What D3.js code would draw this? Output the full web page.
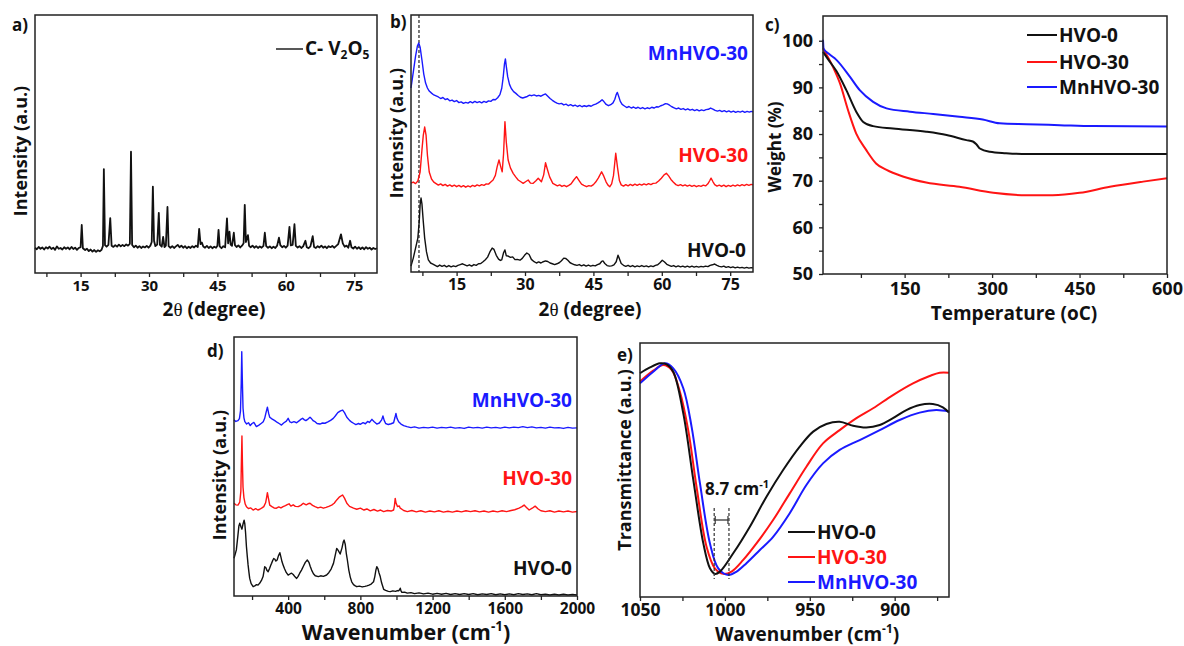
<!DOCTYPE html>
<html>
<head>
<meta charset="utf-8">
<script src="https://cdn.jsdelivr.net/npm/d3@7"></script>
<style>
  body { margin: 0; background: #fff; }
  svg { display: block; }
  text { font-family: 'Open Sans', sans-serif; font-weight: 700; }
</style>
</head>
<body>
<svg id="fig" width="1184" height="646"></svg>
<script>
// ---------- (a) XRD of C-V2O5: [2θ, intensity] ----------
const xrdV2O5 = [[5.0,9.8],[5.4,9.2],[5.8,10.1],[6.2,9.4],[6.6,9.9],[7.0,9.1],[7.4,10.0],[7.8,9.5],[8.2,10.2],[8.6,9.3],[9.0,9.8],[9.4,9.0],[9.8,10.3],[10.2,9.4],[10.6,9.7],[11.0,9.1],[11.4,10.0],[11.8,9.4],[12.2,9.9],[12.6,9.2],[13.0,10.1],[13.4,9.3],[13.8,9.8],[14.2,9.0],[14.6,9.7],[15.0,10.0],[15.25,18.6],[15.5,9.6],[16.0,8.9],[16.4,9.4],[16.8,8.5],[17.2,9.1],[17.6,8.3],[18.0,8.9],[18.4,8.2],[18.8,8.8],[19.2,8.4],[19.6,9.0],[19.9,10.5],[20.1,40.3],[20.35,10.8],[20.7,10.2],[21.1,10.9],[21.5,21.3],[21.8,10.6],[22.2,10.1],[22.6,10.8],[23.0,10.2],[23.4,11.0],[23.8,10.3],[24.2,10.9],[24.6,10.4],[25.0,11.1],[25.4,10.6],[25.8,11.3],[26.05,47.0],[26.3,10.9],[26.7,10.0],[27.1,10.6],[27.5,9.8],[27.9,10.4],[28.3,9.7],[28.7,10.3],[29.1,9.9],[29.5,10.5],[29.9,9.8],[30.3,10.6],[30.6,12.0],[30.85,33.5],[31.1,12.5],[31.4,10.4],[31.8,11.0],[32.15,23.3],[32.4,10.9],[32.8,10.2],[33.1,14.0],[33.4,10.0],[33.7,10.6],[34.05,25.6],[34.3,10.4],[34.7,9.8],[35.1,10.4],[35.5,9.7],[35.9,10.3],[36.3,10.9],[36.7,10.0],[37.1,10.6],[37.5,9.8],[37.9,10.4],[38.3,9.6],[38.7,10.2],[39.1,9.7],[39.5,10.4],[39.9,9.9],[40.3,10.6],[40.7,10.1],[41.0,17.1],[41.3,11.2],[41.6,11.8],[41.9,10.3],[42.3,9.8],[42.7,10.5],[43.1,9.7],[43.5,10.3],[43.9,9.6],[44.3,10.2],[44.7,9.8],[45.0,10.6],[45.25,16.7],[45.5,10.3],[45.9,9.6],[46.3,10.4],[46.7,10.0],[47.1,21.2],[47.35,11.5],[47.65,16.0],[47.9,11.0],[48.2,10.5],[48.6,15.6],[48.85,10.8],[49.2,10.1],[49.6,10.7],[50.0,9.9],[50.4,10.6],[50.75,11.5],[51.0,26.4],[51.25,12.0],[51.7,14.7],[51.95,10.5],[52.3,10.0],[52.7,10.6],[53.1,9.8],[53.5,10.4],[53.9,9.7],[54.3,10.3],[54.7,9.8],[55.1,10.5],[55.4,15.6],[55.7,10.4],[56.1,9.8],[56.5,10.3],[56.9,9.6],[57.3,10.2],[57.7,9.7],[58.1,10.6],[58.5,13.7],[58.8,10.8],[59.2,10.0],[59.6,10.5],[60.0,9.8],[60.4,10.6],[60.8,17.9],[61.1,10.7],[61.5,10.9],[61.9,18.9],[62.2,10.5],[62.6,9.9],[63.0,10.4],[63.4,9.7],[63.8,10.3],[64.3,12.5],[64.6,10.0],[65.0,9.6],[65.4,10.3],[65.9,14.3],[66.2,10.1],[66.6,9.7],[67.0,10.4],[67.4,9.9],[67.8,10.6],[68.2,9.8],[68.6,10.3],[69.0,9.6],[69.4,10.4],[69.8,10.0],[70.2,10.5],[70.6,9.8],[71.0,10.4],[71.5,11.2],[72.1,15.0],[72.5,11.5],[72.9,10.2],[73.3,10.6],[73.7,9.8],[74.1,12.5],[74.4,10.0],[74.8,9.5],[75.2,10.2],[75.6,9.4],[76.0,10.0],[76.4,9.3],[76.8,9.9],[77.2,9.2],[77.6,10.0],[78.0,9.4],[78.4,9.8],[78.8,9.1],[79.2,9.7],[79.6,9.3],[80.0,9.6]];

// ---------- (b) XRD of HVO samples: [2θ, intensity] ----------
const xrdMnHVO30 = [[5.0,71.6],[5.5,77.8],[6.0,84.0],[6.4,87.9],[6.7,89.1],[7.0,87.5],[7.4,82.5],[7.8,77.0],[8.2,73.5],[8.6,71.6],[9.0,70.4],[9.5,69.6],[10.0,68.9],[10.5,68.5],[11.0,68.1],[11.5,67.5],[12.0,67.9],[12.5,67.1],[13.0,67.4],[13.5,66.6],[14.0,66.9],[14.5,66.3],[15.0,66.7],[15.5,65.9],[16.0,66.2],[16.5,65.6],[17.0,66.0],[17.5,65.7],[18.0,66.3],[18.5,65.8],[19.0,66.4],[19.5,65.9],[20.0,66.3],[20.5,65.8],[21.0,66.4],[21.5,66.0],[22.0,66.6],[22.5,66.4],[23.0,67.1],[23.5,67.0],[24.0,67.8],[24.5,69.0],[24.9,71.5],[25.2,75.5],[25.5,81.0],[25.7,82.9],[25.9,80.0],[26.2,76.0],[26.6,73.0],[27.0,71.4],[27.5,70.2],[28.0,69.5],[28.5,68.7],[29.0,68.0],[29.5,67.7],[30.0,68.0],[30.5,68.3],[31.0,68.8],[31.5,68.6],[32.0,68.9],[32.5,68.5],[33.0,68.7],[33.5,68.4],[34.0,68.9],[34.5,69.3],[35.0,68.4],[35.5,67.5],[36.0,66.8],[36.5,66.2],[37.0,65.7],[37.5,65.4],[38.0,65.6],[38.5,65.0],[39.0,65.3],[39.5,64.7],[40.0,65.1],[40.5,64.6],[41.0,64.9],[41.5,64.4],[42.0,64.8],[42.5,64.3],[43.0,64.7],[43.5,64.4],[44.0,64.8],[44.5,64.5],[45.0,65.0],[45.5,65.3],[46.0,65.8],[46.5,66.4],[46.9,67.0],[47.3,66.3],[47.8,65.2],[48.3,64.7],[48.8,65.1],[49.3,65.8],[49.7,67.2],[50.0,69.0],[50.25,69.9],[50.5,68.6],[50.9,66.4],[51.3,65.2],[51.8,64.6],[52.3,64.0],[52.8,64.4],[53.3,63.8],[53.8,64.2],[54.3,63.7],[54.8,64.1],[55.3,63.6],[55.8,64.0],[56.3,63.5],[56.8,63.9],[57.3,63.6],[57.8,64.1],[58.3,63.8],[58.8,64.3],[59.3,64.2],[59.8,64.7],[60.3,65.0],[60.8,65.5],[61.2,65.4],[61.7,64.9],[62.2,64.3],[62.7,63.9],[63.2,63.5],[63.7,63.8],[64.2,63.3],[64.7,63.6],[65.2,63.1],[65.7,63.5],[66.2,63.0],[66.7,63.3],[67.2,62.8],[67.7,63.2],[68.2,62.7],[68.7,63.1],[69.2,62.8],[69.7,63.2],[70.2,63.3],[70.7,63.8],[71.2,63.4],[71.7,62.9],[72.2,62.6],[72.7,62.9],[73.2,62.4],[73.7,62.8],[74.2,62.3],[74.7,62.7],[75.2,62.2],[75.7,62.6],[76.2,62.1],[76.7,62.5],[77.2,62.2],[77.7,62.6],[78.2,62.1],[78.7,62.5],[79.2,62.2],[79.6,62.5],[80.0,62.3]];

const xrdHVO30 = [[5.0,34.6],[5.5,35.0],[6.0,34.4],[6.5,35.4],[7.0,38.9],[7.4,47.5],[7.7,53.3],[8.0,56.4],[8.3,53.3],[8.6,45.5],[9.0,38.9],[9.5,36.2],[10.0,35.0],[10.5,34.4],[11.0,33.8],[11.5,34.3],[12.0,33.6],[12.5,34.1],[13.0,33.4],[13.5,33.9],[14.0,33.3],[14.5,33.8],[15.0,33.2],[15.5,33.7],[16.0,33.1],[16.5,33.6],[17.0,33.0],[17.5,33.5],[18.0,33.1],[18.5,33.7],[19.0,33.3],[19.5,33.9],[20.0,33.5],[20.5,34.0],[21.0,33.7],[21.5,34.3],[22.0,34.2],[22.5,35.0],[23.0,35.8],[23.5,37.6],[23.9,41.0],[24.3,43.6],[24.7,40.8],[25.0,39.0],[25.3,46.0],[25.6,58.5],[25.9,50.5],[26.3,43.6],[26.8,40.5],[27.4,38.4],[28.0,36.9],[28.5,35.8],[29.0,35.2],[29.6,34.5],[30.2,35.2],[30.7,35.8],[31.2,34.6],[31.8,34.5],[32.4,35.5],[32.9,36.5],[33.6,35.1],[34.1,37.8],[34.5,42.5],[34.9,40.0],[35.4,37.0],[36.1,34.5],[36.6,34.0],[37.1,33.5],[37.6,33.9],[38.1,33.3],[38.6,33.7],[39.1,33.2],[39.6,33.7],[40.1,34.3],[40.7,35.8],[41.3,37.1],[41.9,35.5],[42.4,34.2],[42.9,33.7],[43.5,33.2],[44.0,33.6],[44.5,33.4],[45.0,34.0],[45.5,35.0],[46.1,36.6],[46.8,39.0],[47.3,37.2],[47.8,35.0],[48.2,33.8],[48.6,33.2],[49.0,34.3],[49.4,37.5],[49.9,46.2],[50.3,40.5],[50.7,35.6],[51.1,33.9],[51.6,33.4],[52.1,34.0],[52.6,33.5],[53.1,34.1],[53.6,33.6],[54.1,34.2],[54.6,33.7],[55.1,34.2],[55.6,33.8],[56.1,34.3],[56.6,33.9],[57.1,34.4],[57.6,34.0],[58.1,34.5],[58.7,34.6],[59.3,35.4],[59.9,36.5],[60.5,37.8],[61.0,38.4],[61.5,37.4],[62.0,36.0],[62.5,35.0],[63.1,34.0],[63.6,33.6],[64.1,34.0],[64.6,33.5],[65.1,33.9],[65.6,33.4],[66.1,33.8],[66.6,33.3],[67.1,33.7],[67.6,33.2],[68.1,33.6],[68.6,33.3],[69.1,33.8],[69.6,33.5],[70.1,34.3],[70.5,35.5],[70.8,36.5],[71.2,35.2],[71.6,34.0],[72.1,33.4],[72.6,33.8],[73.1,33.3],[73.6,33.8],[74.1,33.2],[74.6,33.7],[75.1,33.3],[75.6,33.8],[76.1,33.4],[76.6,33.9],[77.1,33.5],[77.6,34.0],[78.1,33.6],[78.6,34.1],[79.1,33.7],[79.6,34.1],[80.0,33.9]];

const xrdHVO0 = [[5.0,2.3],[5.5,5.4],[6.0,9.3],[6.5,13.2],[6.8,19.5],[7.0,26.1],[7.2,28.8],[7.4,26.5],[7.7,19.5],[8.0,13.2],[8.4,7.8],[8.8,4.7],[9.3,3.5],[9.8,3.1],[10.3,2.6],[10.8,2.1],[11.3,2.7],[11.8,2.2],[12.3,2.6],[12.8,2.0],[13.3,2.5],[13.8,2.0],[14.3,2.4],[14.8,2.1],[15.3,2.6],[15.8,2.9],[16.3,3.2],[16.8,2.8],[17.3,2.4],[17.8,2.8],[18.3,2.3],[18.8,2.9],[19.3,2.6],[19.8,3.2],[20.3,3.3],[20.8,4.0],[21.3,4.8],[21.8,5.8],[22.3,7.8],[22.8,9.3],[23.2,8.8],[23.7,6.5],[24.2,5.0],[24.6,4.5],[24.9,4.7],[25.3,7.5],[25.6,8.6],[25.9,6.3],[26.3,6.2],[26.8,5.7],[27.3,5.9],[27.8,4.8],[28.3,4.9],[28.9,4.6],[29.4,5.3],[29.9,6.5],[30.4,7.4],[30.9,6.8],[31.4,4.9],[32.0,4.0],[32.5,3.5],[33.0,3.9],[33.5,3.5],[34.0,4.0],[34.5,4.3],[35.0,4.1],[35.5,3.5],[36.0,3.2],[36.5,2.9],[37.0,3.2],[37.5,3.6],[38.0,4.4],[38.5,5.4],[38.9,5.3],[39.4,4.6],[39.9,3.6],[40.4,3.2],[40.9,2.8],[41.4,2.6],[41.9,2.9],[42.4,2.4],[42.9,2.8],[43.4,2.3],[43.9,2.7],[44.4,2.3],[44.9,2.6],[45.4,2.4],[45.9,2.9],[46.4,3.2],[46.8,4.1],[47.1,4.3],[47.5,3.3],[48.0,2.5],[48.5,2.3],[49.0,2.4],[49.5,2.8],[50.0,4.0],[50.4,6.5],[50.7,5.2],[51.1,3.3],[51.6,2.6],[52.1,2.2],[52.6,2.6],[53.1,2.1],[53.6,2.5],[54.1,2.0],[54.6,2.4],[55.1,2.1],[55.6,2.5],[56.1,2.1],[56.6,2.4],[57.1,2.0],[57.6,2.4],[58.1,2.1],[58.6,2.6],[59.1,2.8],[59.6,3.6],[60.1,4.6],[60.6,3.9],[61.1,3.0],[61.6,2.6],[62.1,2.2],[62.6,2.5],[63.1,2.0],[63.6,2.4],[64.1,2.0],[64.6,2.3],[65.1,1.9],[65.6,2.3],[66.1,1.9],[66.6,2.3],[67.1,1.9],[67.6,2.2],[68.1,1.9],[68.6,2.2],[69.1,2.0],[69.6,2.3],[70.1,2.1],[70.6,2.6],[71.1,2.8],[71.6,3.1],[72.1,2.6],[72.6,2.2],[73.1,2.0],[73.6,2.3],[74.1,1.8],[74.6,2.1],[75.1,1.7],[75.6,2.0],[76.1,1.6],[76.6,1.9],[77.1,1.6],[77.6,1.8],[78.1,1.5],[78.6,1.8],[79.1,1.5],[79.6,1.7],[80.0,1.6]];
const xrdRefAngle = 6.75;   // dashed guide through the (001) reflection

// ---------- (c) TGA: [temperature °C, weight %] ----------
const tgaHVO0 = [[10,97.6],[20,95.8],[33,93.5],[50,89.4],[67,84.8],[79,82.6],[96,81.7],[130,81.2],[187,80.5],[222,79.8],[256,78.7],[267,78.4],[273,77.8],[279,76.9],[296,76.2],[324,75.9],[360,75.7],[450,75.7],[600,75.7]];
const tgaHVO30 = [[10,98.4],[27,94.4],[39,90.9],[53,85.1],[67,80.1],[84,76.6],[101,73.7],[119,72.3],[147,70.9],[187,69.6],[244,68.7],[302,67.4],[359,66.9],[404,66.9],[450,67.4],[502,68.7],[559,69.8],[600,70.5]];
const tgaMnHVO30 = [[10,100.2],[11,98.3],[20,97.2],[33,95.9],[56,92.3],[73,89.4],[96,86.9],[119,85.5],[159,84.8],[199,84.3],[244,83.7],[284,83.1],[313,82.3],[359,82.1],[416,81.9],[473,81.7],[600,81.6]];

// ---------- (d) Raman: [wavenumber cm-1, intensity] ----------
const ramanMnHVO30 = [[100,68.0],[110,67.4],[122,67.7],[130,68.5],[136,71.5],[140,82.0],[143,94.3],[146,84.0],[150,72.5],[155,68.8],[160,67.3],[170,66.4],[180,66.9],[190,65.8],[200,66.6],[210,67.0],[224,65.4],[238,66.0],[252,66.7],[262,67.3],[270,68.6],[278,71.0],[285,72.9],[292,70.5],[298,69.0],[310,68.4],[326,67.7],[340,67.0],[352,66.5],[363,66.0],[375,66.8],[390,67.5],[400,68.6],[410,67.2],[419,66.9],[432,67.3],[447,66.9],[460,67.6],[470,68.2],[480,68.6],[490,68.0],[498,67.7],[510,68.3],[521,69.0],[530,68.4],[540,67.6],[549,67.3],[560,66.6],[576,66.4],[590,66.8],[604,66.7],[620,67.2],[635,67.8],[650,68.6],[662,69.6],[675,70.8],[690,71.5],[702,71.8],[712,70.8],[725,69.0],[740,67.8],[752,67.1],[762,66.7],[775,66.2],[790,66.6],[799,66.3],[815,66.9],[828,66.5],[840,67.4],[850,67.0],[864,68.2],[875,67.4],[891,66.4],[905,66.8],[918,68.0],[925,69.5],[932,67.8],[940,66.6],[955,66.2],[970,66.5],[984,66.9],[992,69.0],[997,70.5],[1003,68.6],[1012,67.3],[1025,66.4],[1040,65.8],[1058,65.4],[1080,65.0],[1100,65.3],[1125,64.8],[1150,65.1],[1175,64.9],[1200,65.2],[1225,64.8],[1250,65.1],[1275,64.9],[1300,65.2],[1325,64.8],[1350,65.0],[1375,64.7],[1400,65.2],[1425,64.9],[1450,65.1],[1475,64.8],[1500,65.2],[1525,64.9],[1550,65.1],[1575,64.8],[1600,65.2],[1625,64.9],[1650,65.2],[1675,65.0],[1700,65.4],[1725,65.0],[1750,65.3],[1775,64.9],[1800,65.1],[1825,64.8],[1850,65.2],[1875,64.9],[1900,65.0],[1925,64.7],[1950,65.1],[1975,64.8],[2000,64.9]];
const ramanHVO30 = [[100,35.8],[110,35.2],[122,35.1],[132,36.2],[138,40.5],[141,52.0],[144,61.8],[147,50.5],[150,42.0],[155,38.0],[162,35.5],[169,34.5],[180,33.8],[193,34.0],[206,33.2],[220,33.7],[232,33.2],[243,33.5],[255,34.0],[265,34.5],[275,36.0],[280,37.8],[285,39.9],[290,38.0],[298,35.1],[310,34.5],[322,34.0],[335,33.9],[348,34.4],[360,34.0],[372,34.5],[385,34.9],[395,35.3],[405,35.6],[415,34.7],[428,35.2],[440,34.6],[456,34.5],[470,35.0],[484,35.8],[500,35.2],[510,35.6],[521,35.8],[535,35.0],[549,34.5],[565,34.0],[580,34.3],[595,33.9],[610,34.2],[625,34.6],[641,35.1],[655,35.8],[669,37.1],[685,38.3],[701,39.0],[712,37.8],[725,35.8],[740,34.6],[762,33.9],[780,33.5],[800,33.9],[820,33.2],[836,33.6],[855,32.9],[875,33.4],[895,32.8],[912,33.2],[929,32.6],[950,33.0],[970,32.8],[984,33.2],[989,35.0],[993,37.7],[998,35.8],[1006,34.5],[1015,34.8],[1021,33.9],[1040,33.0],[1060,32.6],[1085,33.0],[1110,32.5],[1135,32.9],[1160,32.4],[1185,32.8],[1210,32.5],[1235,32.9],[1260,32.4],[1285,32.7],[1310,32.4],[1335,32.8],[1360,32.5],[1385,32.9],[1410,32.6],[1435,32.9],[1460,32.5],[1485,32.8],[1510,32.4],[1535,32.8],[1560,32.5],[1585,32.9],[1610,32.6],[1635,33.0],[1655,33.3],[1679,33.9],[1695,34.5],[1707,35.1],[1720,34.2],[1735,33.2],[1752,33.9],[1768,34.7],[1785,33.6],[1800,32.9],[1825,32.6],[1850,32.9],[1875,32.4],[1900,32.8],[1925,32.5],[1950,32.8],[1975,32.4],[2000,32.6]];
const ramanHVO0 = [[100,14.6],[106,16.0],[113,17.8],[118,21.0],[122,23.6],[127,27.0],[132,28.1],[138,26.8],[144,25.8],[150,27.8],[156,29.3],[160,27.8],[164,24.5],[169,19.0],[174,15.0],[178,12.0],[183,9.0],[187,6.8],[195,4.8],[206,3.6],[215,3.9],[225,4.4],[233,4.2],[243,5.0],[252,6.0],[261,7.5],[266,9.5],[270,11.3],[276,11.0],[283,9.8],[289,9.4],[297,10.6],[303,11.8],[308,12.6],[315,13.8],[320,14.5],[326,14.2],[332,13.5],[339,13.9],[346,15.5],[354,16.7],[360,15.0],[366,13.2],[372,12.0],[380,10.5],[390,9.0],[400,8.1],[410,8.5],[419,8.8],[428,8.3],[438,7.4],[447,6.8],[455,7.6],[464,8.8],[474,10.0],[485,11.6],[495,13.0],[506,13.9],[515,13.0],[522,11.5],[530,10.0],[540,8.6],[550,7.8],[567,7.5],[580,7.8],[595,7.6],[613,8.1],[625,9.0],[638,10.4],[651,12.6],[660,15.5],[669,18.4],[678,17.5],[688,16.2],[698,18.5],[705,20.8],[710,21.6],[716,20.0],[722,16.5],[728,13.9],[736,10.0],[744,7.3],[752,5.5],[762,4.4],[772,3.9],[780,3.6],[795,3.8],[810,3.5],[825,3.7],[836,3.9],[848,4.2],[860,4.6],[873,5.5],[880,7.5],[886,10.0],[891,11.3],[897,10.6],[903,9.0],[910,7.5],[918,5.0],[929,2.6],[940,2.2],[955,1.8],[966,1.7],[980,2.0],[995,1.8],[1005,2.1],[1012,2.0],[1017,2.4],[1021,3.0],[1025,2.0],[1030,1.4],[1045,1.5],[1060,1.1],[1080,1.3],[1100,0.9],[1125,1.2],[1150,0.8],[1175,1.1],[1200,0.7],[1225,1.0],[1250,0.7],[1275,1.0],[1300,0.6],[1325,0.9],[1350,0.6],[1375,0.9],[1400,0.6],[1425,0.9],[1450,0.5],[1475,0.8],[1500,0.6],[1525,0.9],[1550,0.5],[1575,0.8],[1600,0.5],[1625,0.8],[1650,0.5],[1675,0.9],[1700,0.6],[1725,0.8],[1750,0.5],[1775,0.9],[1800,0.5],[1825,0.7],[1850,0.4],[1875,0.7],[1900,0.4],[1925,0.7],[1950,0.4],[1975,0.6],[2000,0.4]];

// ---------- (e) FTIR V=O band: [wavenumber cm-1, transmittance] ----------
const irHVO0 = [[1050,88.1],[1044.1,90.4],[1038.2,92.0],[1034.3,91.6],[1030.4,88.7],[1024.5,72.3],[1018.6,46.1],[1012.7,21.1],[1008.8,11.3],[1005.9,9.1],[1002.9,10.0],[995.1,17.2],[985.3,27.7],[975.5,39.5],[965.7,50.0],[955.9,59.2],[948,65.1],[940.2,68.1],[932.4,69.0],[924.5,67.4],[916.7,66.7],[908.8,67.7],[901,70.4],[893.1,73.6],[885.3,75.6],[877.5,76.0],[871.6,74.7],[868,72.6]];
const irHVO30 = [[1050,84.8],[1042.2,89.1],[1036.3,91.3],[1031.4,89.4],[1026.5,80.8],[1021.6,65.7],[1016.7,43.4],[1010.8,19.8],[1005.9,11.3],[1001,9.1],[996.1,10.0],[989.2,14.6],[981.4,21.1],[971.6,30.3],[961.8,40.8],[952,51.3],[942.2,60.5],[932.4,65.7],[922.5,70.4],[912.7,74.3],[901,79.5],[889.2,84.1],[879.4,87.0],[873.5,88.3],[868,88.3]];
const irMnHVO30 = [[1050,84.1],[1042.2,88.7],[1035.3,92.0],[1030.4,90.0],[1024.5,82.2],[1019.6,67.0],[1014.7,44.8],[1008.8,21.1],[1003.9,11.3],[998,8.7],[993.1,10.0],[987.3,13.3],[979.4,18.5],[971.6,23.7],[961.8,33.0],[952,44.1],[942.2,52.6],[932.4,57.9],[920.6,61.8],[908.8,65.7],[897.1,69.7],[885.3,72.6],[875.5,73.6],[868,73.0]];
const irShiftStart = 1006.3;   // HVO-0 band minimum
const irShift = 8.7;           // red-shift of the MnHVO-30 band

// ---------- tick values ----------
const xrdTicks = [15, 30, 45, 60, 75];
const xrdMinor = [7.5, 22.5, 37.5, 52.5, 67.5];
const tgaTempTicks = [150, 300, 450, 600];
const tgaTempMinor = [75, 225, 375, 525];
const tgaWeightTicks = [50, 60, 70, 80, 90, 100];
const tgaWeightMinor = [55, 65, 75, 85, 95];
const ramanTicks = [400, 800, 1200, 1600, 2000];
const ramanMinor = [200, 600, 1000, 1400, 1800];
const irTicks = [1050, 1000, 950, 900];
const irMinor = [1025, 975, 925, 875];

const BLACK = '#111', RED = '#ff1414', BLUE = '#1a1aff';
const FONT = "'Open Sans', sans-serif";
const svg = d3.select('#fig');

function makePanel(box, xDom, yDom) {
  const x = d3.scaleLinear().domain(xDom).range([box.x0, box.x1]);
  const y = d3.scaleLinear().domain(yDom).range([box.y1, box.y0]);
  const g = svg.append('g');
  return { g, x, y, box };
}

function drawFrame(p) {
  p.g.append('rect')
    .attr('x', p.box.x0).attr('y', p.box.y0)
    .attr('width', p.box.x1 - p.box.x0).attr('height', p.box.y1 - p.box.y0)
    .attr('fill', 'none').attr('stroke', '#222').attr('stroke-width', 1.5);
}

function styleAxis(sel, fs) {
  sel.select('.domain').remove();
  sel.attr('font-family', FONT).attr('font-size', fs).attr('font-weight', 700);
  sel.selectAll('line').attr('stroke', '#222').attr('stroke-width', 1.3);
  sel.selectAll('text').attr('fill', '#111');
}

function bottomAxis(p, major, minor, fs, pad) {
  const a = p.g.append('g').attr('transform', `translate(0,${p.box.y1})`)
    .call(d3.axisBottom(p.x).tickValues(major).tickSize(4).tickPadding(pad).tickFormat(d3.format('d')));
  styleAxis(a, fs);
  const m = p.g.append('g').attr('transform', `translate(0,${p.box.y1})`)
    .call(d3.axisBottom(p.x).tickValues(minor).tickSize(4).tickFormat(''));
  styleAxis(m, fs);
}

function leftAxis(p, major, minor, fs, pad) {
  const a = p.g.append('g').attr('transform', `translate(${p.box.x0},0)`)
    .call(d3.axisLeft(p.y).tickValues(major).tickSize(4).tickPadding(pad).tickFormat(d3.format('d')));
  styleAxis(a, fs);
  const m = p.g.append('g').attr('transform', `translate(${p.box.x0},0)`)
    .call(d3.axisLeft(p.y).tickValues(minor).tickSize(4).tickFormat(''));
  styleAxis(m, fs);
}

function trace(p, data, color, width, curve) {
  const line = d3.line().x(d => p.x(d[0])).y(d => p.y(d[1])).curve(curve || d3.curveLinear);
  p.g.append('path').datum(data)
    .attr('d', line).attr('fill', 'none')
    .attr('stroke', color).attr('stroke-width', width)
    .attr('stroke-linejoin', 'round');
}

function label(x, y, txt, opts = {}) {
  return svg.append('text')
    .attr('x', x).attr('y', y)
    .attr('font-size', opts.size || 18)
    .attr('fill', opts.color || BLACK)
    .attr('text-anchor', opts.anchor || 'start')
    .attr('transform', opts.rotate ? `rotate(-90,${x},${y})` : null)
    .text(txt);
}

function wavenumberTitle(x, y, fs) {
  const t = svg.append('text').attr('x', x).attr('y', y)
    .attr('font-size', fs).attr('text-anchor', 'middle').attr('fill', BLACK);
  t.append('tspan').text('Wavenumber (cm');
  t.append('tspan').attr('font-size', fs * 0.62).attr('dy', -fs * 0.42).text('-1');
  t.append('tspan').attr('dy', fs * 0.42).text(')');
}

function thetaTitle(x, y, fs) {
  const t = svg.append('text').attr('x', x).attr('y', y)
    .attr('font-size', fs).attr('text-anchor', 'middle').attr('fill', BLACK);
  t.append('tspan').text('2');
  t.append('tspan').attr('font-family', "'Liberation Serif', serif").attr('font-weight', 400).text('θ');
  t.append('tspan').text(' (degree)');
}

// ===================== (a) =====================
const pa = makePanel({ x0: 35, x1: 377, y0: 15, y1: 273 }, [5, 80], [0, 100]);
trace(pa, xrdV2O5, BLACK, 1.8);
drawFrame(pa);
bottomAxis(pa, xrdTicks, xrdMinor, 15, 3);
pa.g.append('line').attr('x1', 276).attr('x2', 303).attr('y1', 49).attr('y2', 49)
  .attr('stroke', BLACK).attr('stroke-width', 1.4);
{
  const t = svg.append('text').attr('x', 305).attr('y', 55).attr('font-size', 19).attr('fill', BLACK);
  t.append('tspan').text('C- V');
  t.append('tspan').attr('font-size', 12).attr('dy', 4).text('2');
  t.append('tspan').attr('dy', -4).text('O');
  t.append('tspan').attr('font-size', 12).attr('dy', 4).text('5');
}
label(12, 31, 'a)', { size: 17 });
label(27, 151, 'Intensity (a.u.)', { size: 18, anchor: 'middle', rotate: true });
thetaTitle(214, 316, 19);

// ===================== (b) =====================
const pb = makePanel({ x0: 411, x1: 753, y0: 15, y1: 272 }, [5, 80], [0, 100]);
pb.g.append('line')
  .attr('x1', pb.x(xrdRefAngle)).attr('x2', pb.x(xrdRefAngle))
  .attr('y1', pb.box.y0).attr('y2', pb.box.y1)
  .attr('stroke', '#333').attr('stroke-width', 1.3).attr('stroke-dasharray', '3,2');
trace(pb, xrdMnHVO30, BLUE, 1.4);
trace(pb, xrdHVO30, RED, 1.4);
trace(pb, xrdHVO0, BLACK, 1.4);
drawFrame(pb);
bottomAxis(pb, xrdTicks, xrdMinor, 16, 3);
label(748, 60, 'MnHVO-30', { size: 19, anchor: 'end', color: BLUE });
label(748, 162, 'HVO-30', { size: 19, anchor: 'end', color: RED });
label(746, 257, 'HVO-0', { size: 19, anchor: 'end', color: BLACK });
label(390, 28, 'b)', { size: 17 });
label(403, 133, 'Intensity (a.u.)', { size: 18, anchor: 'middle', rotate: true });
thetaTitle(590, 316, 19);

// ===================== (c) =====================
const pc = makePanel({ x0: 823, x1: 1167, y0: 16, y1: 274 }, [10, 600], [50, 105.3]);
trace(pc, tgaHVO30, RED, 2, d3.curveMonotoneX);
trace(pc, tgaHVO0, BLACK, 2, d3.curveMonotoneX);
trace(pc, tgaMnHVO30, BLUE, 2, d3.curveMonotoneX);
drawFrame(pc);
bottomAxis(pc, tgaTempTicks, tgaTempMinor, 18, 4);
leftAxis(pc, tgaWeightTicks, tgaWeightMinor, 18, 6);
[['HVO-0', BLACK, 35], ['HVO-30', RED, 62], ['MnHVO-30', BLUE, 87]].forEach(([name, col, yy]) => {
  svg.append('line').attr('x1', 1027).attr('x2', 1057).attr('y1', yy).attr('y2', yy)
    .attr('stroke', col).attr('stroke-width', 2);
  label(1059, yy + 7, name, { size: 19, color: BLACK });
});
label(765, 31, 'c)', { size: 17 });
label(781, 147, 'Weight (%)', { size: 17, anchor: 'middle', rotate: true });
label(1014, 320, 'Temperature (oC)', { size: 19, anchor: 'middle' });

// ===================== (d) =====================
const pd = makePanel({ x0: 234, x1: 577, y0: 337, y1: 596 }, [100, 2000], [0, 100]);
trace(pd, ramanMnHVO30, BLUE, 1.4);
trace(pd, ramanHVO30, RED, 1.4);
trace(pd, ramanHVO0, BLACK, 1.4);
drawFrame(pd);
bottomAxis(pd, ramanTicks, ramanMinor, 15.5, 3);
label(572, 407, 'MnHVO-30', { size: 19, anchor: 'end', color: BLUE });
label(572, 485, 'HVO-30', { size: 19, anchor: 'end', color: RED });
label(572, 575, 'HVO-0', { size: 19, anchor: 'end', color: BLACK });
label(207, 357, 'd)', { size: 17 });
label(226, 475, 'Intensity (a.u.)', { size: 18, anchor: 'middle', rotate: true });
wavenumberTitle(406, 640, 21.5);

// ===================== (e) =====================
const pe = makePanel({ x0: 640, x1: 949, y0: 343, y1: 597 }, [1050, 868], [0, 100]);
trace(pe, irHVO30, RED, 2, d3.curveCatmullRom);
trace(pe, irMnHVO30, BLUE, 2, d3.curveCatmullRom);
trace(pe, irHVO0, BLACK, 2, d3.curveCatmullRom);
{
  const xa = pe.x(irShiftStart), xb = pe.x(irShiftStart - irShift);
  [xa, xb].forEach(xx => pe.g.append('line')
    .attr('x1', xx).attr('x2', xx).attr('y1', 508).attr('y2', 579)
    .attr('stroke', '#333').attr('stroke-width', 1.2).attr('stroke-dasharray', '3,2'));
  pe.g.append('line').attr('x1', xa + 1).attr('x2', xb - 1).attr('y1', 520).attr('y2', 520)
    .attr('stroke', '#333').attr('stroke-width', 1.3);
  [xa + 1, xb - 1].forEach(xx => pe.g.append('line')
    .attr('x1', xx).attr('x2', xx).attr('y1', 516).attr('y2', 524)
    .attr('stroke', '#333').attr('stroke-width', 1.2));
  const t = svg.append('text').attr('x', 705).attr('y', 495).attr('font-size', 17).attr('fill', BLACK);
  t.append('tspan').text(irShift + ' cm');
  t.append('tspan').attr('font-size', 11).attr('dy', -7).text('-1');
}
drawFrame(pe);
bottomAxis(pe, irTicks, irMinor, 17.5, 3);
[['HVO-0', BLACK, 532], ['HVO-30', RED, 557], ['MnHVO-30', BLUE, 582]].forEach(([name, col, yy]) => {
  svg.append('line').attr('x1', 788).attr('x2', 815).attr('y1', yy).attr('y2', yy)
    .attr('stroke', col).attr('stroke-width', 2);
  label(817, yy + 7, name, { size: 19, color: col });
});
label(617, 361, 'e)', { size: 17 });
label(631, 460, 'Transmittance (a.u.)', { size: 18, anchor: 'middle', rotate: true });
wavenumberTitle(807, 641, 19);
</script>
</body>
</html>
